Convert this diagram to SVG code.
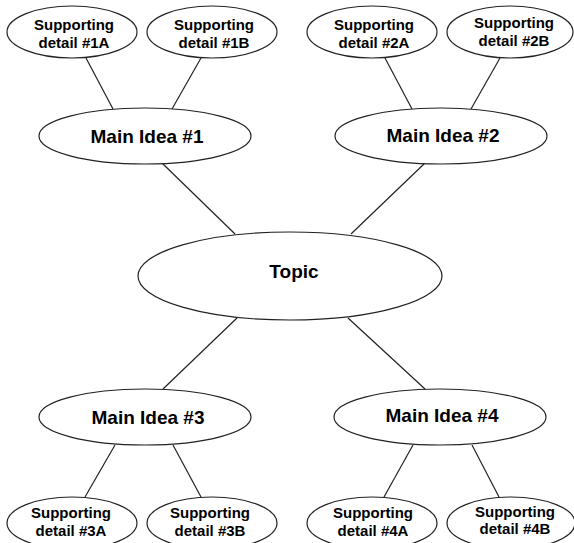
<svg xmlns="http://www.w3.org/2000/svg" width="574" height="543" viewBox="0 0 574 543">
<style>
.n ellipse{fill:#fff;stroke:#222;stroke-width:1.2}
.c line{stroke:#222;stroke-width:1.2}
text{font-family:"Liberation Sans",Arial,sans-serif;font-weight:bold;fill:#000;text-anchor:middle}
.s{font-size:15px}
.m{font-size:19px}
</style>
<rect width="574" height="543" fill="#fff"/>
<g id="connectors" class="c">
<line x1="86" y1="58" x2="113" y2="109"/>
<line x1="201" y1="58" x2="172" y2="109"/>
<line x1="385" y1="58" x2="412" y2="109"/>
<line x1="500" y1="58" x2="471" y2="109"/>
<line x1="162" y1="163" x2="235" y2="234"/>
<line x1="425" y1="163" x2="351" y2="234"/>
<line x1="237" y1="318" x2="163" y2="389"/>
<line x1="348" y1="318" x2="425" y2="389"/>
<line x1="115" y1="445" x2="85" y2="497"/>
<line x1="173" y1="445" x2="201" y2="497"/>
<line x1="413" y1="445" x2="384" y2="497"/>
<line x1="472" y1="445" x2="499" y2="497"/>
</g>
<g id="d1a" class="n"><ellipse cx="72" cy="32" rx="65" ry="26"/><text class="s" x="74" y="30">Supporting</text><text class="s" x="74" y="48">detail #1A</text></g>
<g id="d1b" class="n"><ellipse cx="212" cy="32" rx="65" ry="26"/><text class="s" x="214" y="30">Supporting</text><text class="s" x="214" y="48">detail #1B</text></g>
<g id="d2a" class="n"><ellipse cx="372" cy="32" rx="65" ry="26"/><text class="s" x="374" y="30">Supporting</text><text class="s" x="374" y="48">detail #2A</text></g>
<g id="d2b" class="n"><ellipse cx="510" cy="32" rx="63" ry="26"/><text class="s" x="514" y="28">Supporting</text><text class="s" x="514" y="46">detail #2B</text></g>
<g id="m1" class="n"><ellipse cx="145" cy="136" rx="106" ry="28"/><text class="m" x="147" y="143">Main Idea #1</text></g>
<g id="m2" class="n"><ellipse cx="441" cy="136" rx="106" ry="28"/><text class="m" x="443" y="142">Main Idea #2</text></g>
<g id="topic" class="n"><ellipse cx="290" cy="276" rx="152" ry="44"/><text class="m" x="294" y="278">Topic</text></g>
<g id="m3" class="n"><ellipse cx="145" cy="417" rx="106" ry="28"/><text class="m" x="148" y="424">Main Idea #3</text></g>
<g id="m4" class="n"><ellipse cx="440" cy="417" rx="106" ry="28"/><text class="m" x="442" y="422">Main Idea #4</text></g>
<g id="d3a" class="n"><ellipse cx="72" cy="523" rx="65" ry="26"/><text class="s" x="71" y="518">Supporting</text><text class="s" x="71" y="536">detail #3A</text></g>
<g id="d3b" class="n"><ellipse cx="212" cy="523" rx="65" ry="26"/><text class="s" x="210" y="518">Supporting</text><text class="s" x="210" y="536">detail #3B</text></g>
<g id="d4a" class="n"><ellipse cx="372" cy="523" rx="65" ry="26"/><text class="s" x="373" y="518">Supporting</text><text class="s" x="373" y="536">detail #4A</text></g>
<g id="d4b" class="n"><ellipse cx="511" cy="523" rx="64" ry="26"/><text class="s" x="515" y="517">Supporting</text><text class="s" x="515" y="534">detail #4B</text></g>
</svg>
